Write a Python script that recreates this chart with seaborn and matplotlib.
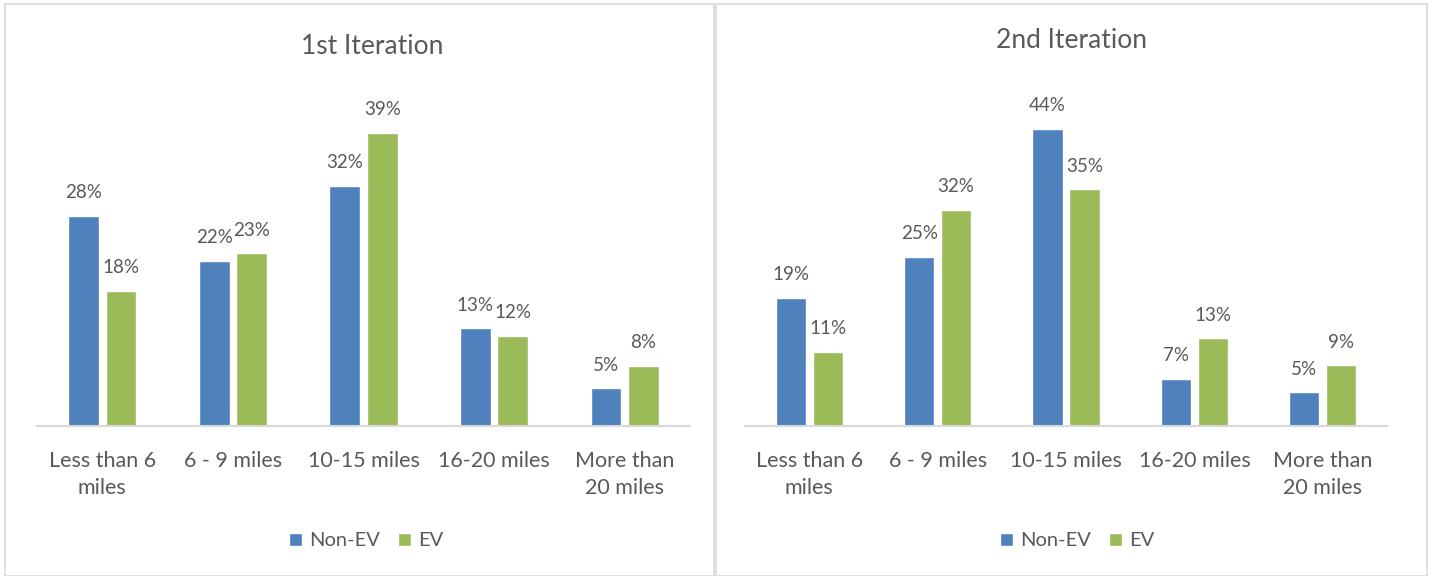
import matplotlib
matplotlib.use("Agg")
import matplotlib.pyplot as plt
from matplotlib.patches import Rectangle
import pandas as pd
import seaborn as sns

categories = ["Less than 6\nmiles", "6 - 9 miles", "10-15 miles", "16-20 miles", "More than\n20 miles"]
series_names = ["Non-EV", "EV"]
iter1_non_ev = [28, 22, 32, 13, 5]
iter1_ev = [18, 23, 39, 12, 8]
iter2_non_ev = [19, 25, 44, 7, 5]
iter2_ev = [11, 32, 35, 13, 9]
titles = ["1st Iteration", "2nd Iteration"]
y_limits = [45, 50]

BLUE = "#4F81BD"
GREEN = "#9BBB59"
TEXT = "#595959"
LINE = "#D9D9D9"

sns.set_theme(style="white")
plt.rcParams["font.family"] = ["Lato", "DejaVu Sans"]
plt.rcParams["text.color"] = TEXT


def long_frame(non_ev, ev):
    rows = []
    for cat, a, b in zip(categories, non_ev, ev):
        rows.append({"distance": cat, "type": series_names[0], "share": a})
        rows.append({"distance": cat, "type": series_names[1], "share": b})
    return pd.DataFrame(rows)


frames = [long_frame(iter1_non_ev, iter1_ev), long_frame(iter2_non_ev, iter2_ev)]

W, H = 1432, 576
fig = plt.figure(figsize=(W / 100, H / 100), dpi=100)

# panel frames
fig.patches.append(Rectangle((5 / W, 0), 709 / W, 1 - 4 / H, transform=fig.transFigure,
                             fill=False, edgecolor=LINE, linewidth=1.2))
fig.patches.append(Rectangle((716 / W, 0), 711 / W, 1 - 4 / H, transform=fig.transFigure,
                             fill=False, edgecolor=LINE, linewidth=1.2))

axes_rects = [
    [37 / W, 150 / H, 653 / W, 338 / H],
    [745 / W, 150 / H, 642 / W, 338 / H],
]
title_pos = [(372 / W, 1 - 47 / H), (1072 / W, 1 - 40 / H)]
legend_pos = [(366 / W, 35 / H), (1077 / W, 35 / H)]

for i, df in enumerate(frames):
    ax = fig.add_axes(axes_rects[i])
    sns.barplot(data=df, x="distance", y="share", hue="type", hue_order=series_names,
                palette=[BLUE, GREEN], width=0.574, gap=0.18, saturation=1,
                ax=ax)
    ax.set_ylim(0, y_limits[i])
    ax.set_xlim(-0.5, len(categories) - 0.5)
    for cont in ax.containers:
        vals = [p.get_height() for p in cont]
        ax.bar_label(cont, labels=[f"{v:.0f}%" for v in vals], padding=10.5,
                     fontsize=13.5, color=TEXT)
    ax.set_xlabel("")
    ax.set_ylabel("")
    ax.set_yticks([])
    for side in ["left", "right", "top"]:
        ax.spines[side].set_visible(False)
    ax.spines["bottom"].set_color(LINE)
    ax.spines["bottom"].set_linewidth(1.5)
    ax.tick_params(axis="x", length=0, pad=18, labelsize=15.5, colors=TEXT)
    for lbl in ax.get_xticklabels():
        lbl.set_linespacing(1.45)
    ax.set_facecolor("none")
    sns.move_legend(ax, "center", bbox_to_anchor=legend_pos[i], bbox_transform=fig.transFigure,
                    ncol=2, frameon=False, title=None, fontsize=14.5,
                    handlelength=0.65, handleheight=0.65, columnspacing=0.9, handletextpad=0.35)
    for t in ax.get_legend().get_texts():
        t.set_color(TEXT)
    fig.text(title_pos[i][0], title_pos[i][1], titles[i], ha="center", va="center",
             fontsize=19, color=TEXT)

fig.savefig("out.png", dpi=100, facecolor="white")
